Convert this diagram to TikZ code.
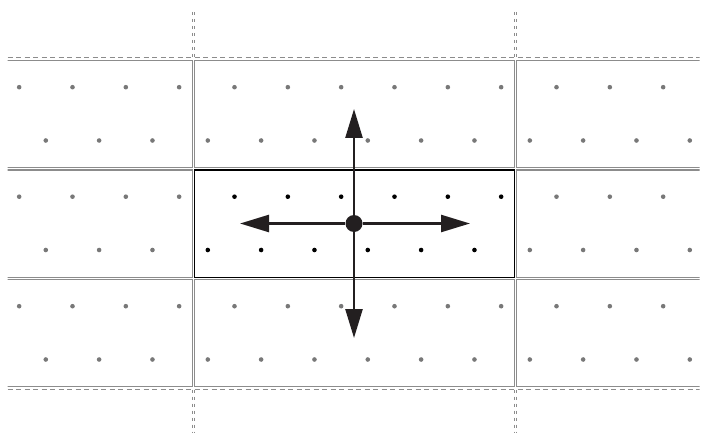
\documentclass[tikz,border=0pt]{standalone}
\usetikzlibrary{arrows.meta}
\definecolor{lg}{RGB}{140,140,140}
\definecolor{dg}{RGB}{120,120,120}
\definecolor{ink}{RGB}{35,31,32}
\begin{document}
\begin{tikzpicture}[x=1pt,y=-1pt,
  cell/.style={draw=lg,line width=1.2pt},
  hghost/.style={draw=lg,line width=1.2pt,dash pattern=on 5pt off 3.5pt},
  vghost/.style={draw=lg,line width=1.2pt,dash pattern=on 3.5pt off 3.5pt},
  gdot/.style={fill=dg},
  bdot/.style={fill=black},
  core/.style={draw=black,line width=1.4pt},
  hub/.style={circle,fill=ink,minimum size=17pt,inner sep=0pt},
  arr/.style={draw=ink,line width=2.5pt,-{Triangle[length=29pt,width=17pt]}}]
\useasboundingbox (0,0) rectangle (701,433);
\begin{scope}
\clip (7.5,0) rectangle (699.5,433);
\foreach \r in {0,1,2}{
  \foreach \c in {-1,0,1}{
    \pgfmathsetmacro{\L}{194.5+322*\c}
    \pgfmathsetmacro{\T}{60.5+109.5*\r}
    \draw[cell] (\L,\T) rectangle ++(320,107.3);
  }
}
\foreach \r in {0,1,2}{
  \foreach \c in {-1,0,1}{
    \pgfmathsetmacro{\L}{194.5+322*\c}
    \pgfmathsetmacro{\T}{60.5+109.5*\r}
    \pgfmathsetmacro{\isc}{(\r==1)&&(\c==0)}
    \foreach \k in {0,...,5}{
      \ifdim\isc pt>0.5pt
        \fill[bdot] (\L+40+53.33*\k,\T+26.7) circle[radius=2.3pt];
        \fill[bdot] (\L+13.3+53.33*\k,\T+80) circle[radius=2.3pt];
      \else
        \fill[gdot] (\L+40+53.33*\k,\T+26.7) circle[radius=2.3pt];
        \fill[gdot] (\L+13.3+53.33*\k,\T+80) circle[radius=2.3pt];
      \fi
    }
  }
}
% ghost neighbours above and below
\draw[hghost] (7.5,57.3) -- (699.5,57.3);
\draw[hghost] (7.5,389.7) -- (699.5,389.7);
\end{scope}
\foreach \x in {192.2,194.8,514.2,516.8}{
  \draw[vghost] (\x,12) -- (\x,57.3);
  \draw[vghost] (\x,389.7) -- (\x,433);
}
% central cell
\draw[core] (194.5,170) rectangle (514.5,277.3);
% hub and arrows
\node[hub] (c) at (354,223.5) {};
\coordinate (u) at (354,109);
\coordinate (d) at (354,338);
\coordinate (l) at (240,223.5);
\coordinate (r) at (470,223.5);
\draw[arr] (c) -- (u);
\draw[arr] (c) -- (d);
\draw[arr] (c) -- (l);
\draw[arr] (c) -- (r);
\end{tikzpicture}
\end{document}
